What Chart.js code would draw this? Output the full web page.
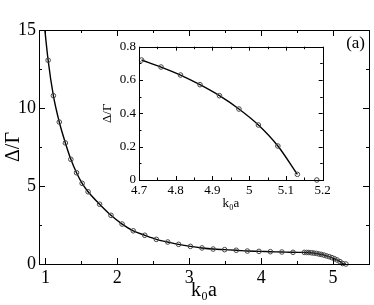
<!DOCTYPE html>
<html lang="en">
<head>
<meta charset="UTF-8">
<title>Delta/Gamma vs k0a</title>
<script src="https://cdn.jsdelivr.net/npm/chart.js"></script>
<style>
  html, body { margin: 0; padding: 0; background: #fff; }
  .wrap { position: relative; width: 374px; height: 305px; }
  .wrap canvas { position: absolute; left: 0; top: 0; }
</style>
</head>
<body>
<div class="wrap">
  <canvas id="mainChart" width="374" height="305"></canvas>
  <canvas id="insetChart" width="374" height="305"></canvas>
</div>
<script>
// main panel: Delta/Gamma against k0 a
const kaMain = [0.965, 1.037, 1.110, 1.192, 1.277, 1.353, 1.432, 1.510, 1.593, 1.753, 1.911,
  2.066, 2.221, 2.381, 2.542, 2.701, 2.852, 3.016, 3.177, 3.332, 3.492, 3.653, 3.808, 3.969,
  4.128, 4.288, 4.443, 4.600, 4.632, 4.663, 4.700, 4.732, 4.768, 4.805, 4.837, 4.874, 4.909,
  4.946, 4.983, 5.019, 5.056, 5.097, 5.134, 5.179];
const dgMain = [16.2, 13.06, 10.79, 9.10, 7.76, 6.71, 5.85, 5.17, 4.63, 3.83, 3.12,
  2.56, 2.13, 1.84, 1.58, 1.41, 1.26, 1.13, 1.03, 0.96, 0.92, 0.88, 0.83, 0.81,
  0.79, 0.77, 0.75, 0.745, 0.74, 0.735, 0.72, 0.70, 0.68, 0.64, 0.61, 0.57, 0.52,
  0.47, 0.41, 0.34, 0.26, 0.15, 0.03, 0.0];

// inset: zoom on the end of the curve
const kaInset = [4.707, 4.760, 4.813, 4.866, 4.919, 4.972, 5.025, 5.078, 5.131];
const dgInset = [0.72, 0.678, 0.630, 0.572, 0.506, 0.426, 0.330, 0.204, 0.034];
const kaInsetEnd = [5.184];
const dgInsetEnd = [0];

const mainXTicks = [1, 2, 3, 4, 5];
const mainYTicks = [0, 5, 10, 15];
const insetXTicks = [4.7, 4.8, 4.9, 5.0, 5.1, 5.2];
const insetXLabels = ['4.7', '4.8', '4.9', '5', '5.1', '5.2'];
const insetYTicks = [0, 0.2, 0.4, 0.6, 0.8];
const insetYLabels = ['0', '0.2', '0.4', '0.6', '0.8'];

const serif = '"Liberation Serif", "Times New Roman", serif';

function toPoints(xs, ys) {
  return xs.map((x, i) => ({ x: x, y: ys[i] }));
}

// box round the plot with inward ticks on all four sides
const frameTicks = {
  id: 'frameTicks',
  afterDatasetsDraw(chart, args, opts) {
    const { ctx, chartArea: a } = chart;
    const xs = chart.scales.x, ys = chart.scales.y;
    ctx.save();
    ctx.strokeStyle = '#000';
    ctx.lineWidth = 1;
    ctx.beginPath();
    const tick = (v, len, horiz) => {
      if (horiz) {
        const px = Math.round(xs.getPixelForValue(v)) + 0.5;
        ctx.moveTo(px, a.bottom); ctx.lineTo(px, a.bottom - len);
        ctx.moveTo(px, a.top); ctx.lineTo(px, a.top + len);
      } else {
        const py = Math.round(ys.getPixelForValue(v)) + 0.5;
        ctx.moveTo(a.left, py); ctx.lineTo(a.left + len, py);
        ctx.moveTo(a.right, py); ctx.lineTo(a.right - len, py);
      }
    };
    for (let v = opts.xFrom; v <= xs.max + 1e-9; v += opts.xStep) {
      const major = Math.abs(v / (opts.xStep * 2) - Math.round(v / (opts.xStep * 2))) < 1e-6;
      if (v >= xs.min) tick(v, major ? opts.major : opts.minor, true);
    }
    for (let v = opts.yFrom; v <= ys.max + 1e-9; v += opts.yStep) {
      const major = Math.abs(v / (opts.yStep * 2) - Math.round(v / (opts.yStep * 2))) < 1e-6;
      tick(v, major ? opts.major : opts.minor, false);
    }
    ctx.stroke();
    ctx.strokeRect(Math.round(a.left) + 0.5, Math.round(a.top) + 0.5,
      Math.round(a.right - a.left), Math.round(a.bottom - a.top));
    if (opts.tag) {
      ctx.fillStyle = '#000';
      ctx.font = '17px ' + serif;
      ctx.textAlign = 'right';
      ctx.textBaseline = 'top';
      ctx.fillText(opts.tag, a.right - 4, a.top + 5);
    }
    ctx.restore();
  }
};

function axis(min, max, ticks, labels, size, fit, title, titleSize, titlePad) {
  return {
    type: 'linear', min: min, max: max,
    grid: { display: false, drawTicks: false },
    border: { display: false },
    afterBuildTicks: s => { s.ticks = ticks.map(v => ({ value: v })); },
    afterFit: fit,
    ticks: {
      color: '#000', font: { family: serif, size: size }, padding: 3,
      maxRotation: 0, autoSkip: false,
      callback: (v, i) => labels ? labels[i] : String(v)
    },
    title: {
      display: true, text: title, color: '#000',
      font: { family: serif, size: titleSize, lineHeight: 1.2 }, padding: titlePad
    }
  };
}

new Chart(document.getElementById('mainChart'), {
  type: 'line',
  data: {
    datasets: [{
      data: toPoints(kaMain, dgMain),
      borderColor: '#000', borderWidth: 1.4,
      cubicInterpolationMode: 'monotone',
      pointRadius: 2.3, pointBorderWidth: 1,
      pointBorderColor: '#444', pointBackgroundColor: 'rgba(0,0,0,0)',
      clip: { left: 5, top: 0, right: 5, bottom: 5 }
    }]
  },
  options: {
    responsive: false, animation: false,
    layout: { padding: { left: 2, top: 30, right: 1, bottom: 0 } },
    plugins: {
      legend: { display: false }, tooltip: { enabled: false },
      frameTicks: { xFrom: 1, xStep: 0.5, yFrom: 0, yStep: 2.5, major: 6, minor: 3, tag: '(a)' }
    },
    scales: {
      x: axis(0.91, 5.5, mainXTicks, null, 18, s => { s.height = 41; }, 'k₀a', 20, { top: 0, bottom: 2 }),
      y: axis(0, 15, mainYTicks, null, 18, s => { s.width = 37; }, 'Δ/Γ', 20, { top: 0, bottom: 0 })
    }
  },
  plugins: [frameTicks]
});

new Chart(document.getElementById('insetChart'), {
  type: 'line',
  data: {
    datasets: [{
      data: toPoints(kaInset, dgInset),
      borderColor: '#000', borderWidth: 1.4,
      cubicInterpolationMode: 'monotone',
      pointRadius: 2.3, pointBorderWidth: 1,
      pointBorderColor: '#444', pointBackgroundColor: 'rgba(0,0,0,0)',
      clip: false
    }, {
      data: toPoints(kaInsetEnd, dgInsetEnd),
      showLine: false,
      pointRadius: 2.3, pointBorderWidth: 1,
      pointBorderColor: '#444', pointBackgroundColor: 'rgba(0,0,0,0)',
      clip: false
    }]
  },
  options: {
    responsive: false, animation: false,
    layout: { padding: { left: 100, top: 46.7, right: 51.3, bottom: 94 } },
    plugins: {
      legend: { display: false }, tooltip: { enabled: false },
      frameTicks: { xFrom: 4.7, xStep: 0.05, yFrom: 0, yStep: 0.1, major: 4, minor: 2.5 }
    },
    scales: {
      x: axis(4.7, 5.2, insetXTicks, insetXLabels, 13, s => { s.height = 31; }, 'k₀a', 13, { top: 0, bottom: 0 }),
      y: axis(0, 0.8, insetYTicks, insetYLabels, 13, s => { s.width = 39; }, 'Δ/Γ', 13, { top: 0, bottom: 0 })
    }
  },
  plugins: [frameTicks]
});
</script>
</body>
</html>
